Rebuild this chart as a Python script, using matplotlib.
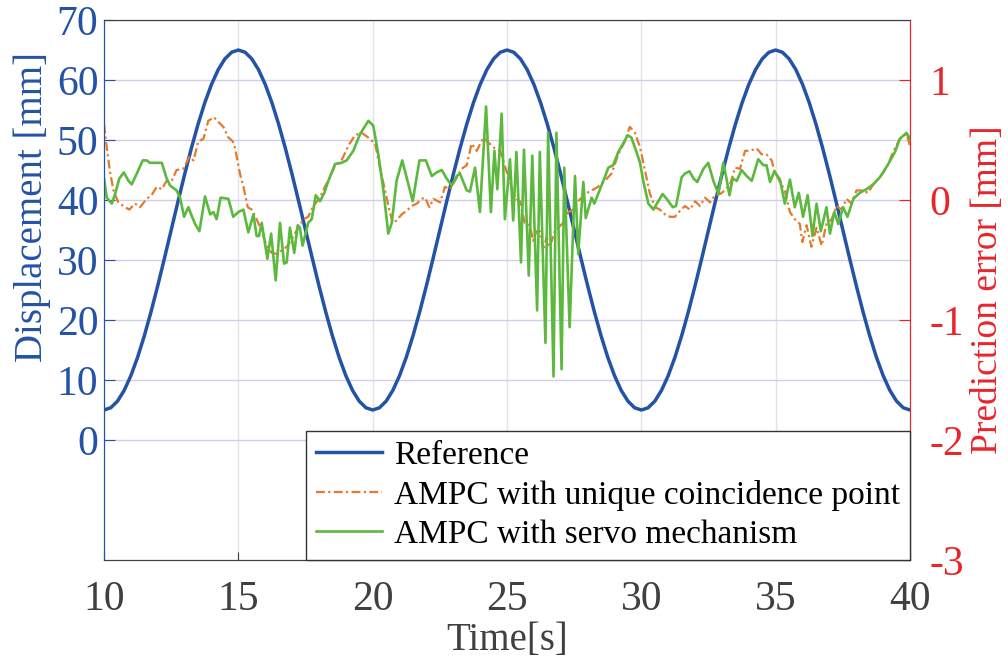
import numpy as np
import matplotlib
matplotlib.use("Agg")
import matplotlib.pyplot as plt

plt.rcParams['font.family'] = ['Liberation Serif', 'DejaVu Serif']
plt.rcParams['axes.unicode_minus'] = False

# =========================
# Data
# =========================
# reference trajectory, sampled every 0.25 s from 10 s to 40 s
ref_t = np.arange(10, 40.001, 0.25)
ref_disp = [
    5, 5.37, 6.47, 8.27, 10.73, 13.79, 17.37, 21.38, 25.73, 30.31,
    35, 39.69, 44.27, 48.62, 52.63, 56.21, 59.27, 61.73, 63.53, 64.63,
    65, 64.63, 63.53, 61.73, 59.27, 56.21, 52.63, 48.62, 44.27, 39.69,
    35, 30.31, 25.73, 21.38, 17.37, 13.79, 10.73, 8.27, 6.47, 5.37,
    5, 5.37, 6.47, 8.27, 10.73, 13.79, 17.37, 21.38, 25.73, 30.31,
    35, 39.69, 44.27, 48.62, 52.63, 56.21, 59.27, 61.73, 63.53, 64.63,
    65, 64.63, 63.53, 61.73, 59.27, 56.21, 52.63, 48.62, 44.27, 39.69,
    35, 30.31, 25.73, 21.38, 17.37, 13.79, 10.73, 8.27, 6.47, 5.37,
    5, 5.37, 6.47, 8.27, 10.73, 13.79, 17.37, 21.38, 25.73, 30.31,
    35, 39.69, 44.27, 48.62, 52.63, 56.21, 59.27, 61.73, 63.53, 64.63,
    65, 64.63, 63.53, 61.73, 59.27, 56.21, 52.63, 48.62, 44.27, 39.69,
    35, 30.31, 25.73, 21.38, 17.37, 13.79, 10.73, 8.27, 6.47, 5.37,
    5,
]

# AMPC with unique coincidence point (prediction error, mm)
ucp_t = [
    10.0, 10.10, 10.22, 10.35, 10.53, 10.72, 10.94, 11.15, 11.34, 11.59,
    11.77, 11.96, 12.15, 12.33, 12.52, 12.70, 12.95, 13.18, 13.33, 13.51,
    13.70, 13.88, 14.09, 14.26, 14.44, 14.63, 14.79,
    14.88, 15.06, 15.19, 15.35, 15.50, 15.68, 15.87, 16.05, 16.24, 16.43,
    16.61, 16.80, 16.98, 17.23, 17.42, 17.60, 17.79, 18.04, 18.22, 18.41,
    18.60, 18.84, 19.09, 19.34, 19.59, 19.84,
    20.09, 20.27, 20.46, 20.64, 20.74, 20.89, 21.08, 21.26, 21.45, 21.64,
    21.82, 21.95, 22.11, 22.26, 22.51, 22.69, 22.88, 23.06, 23.31, 23.50,
    23.68, 23.87, 24.12, 24.30, 24.55, 24.74,
    24.92, 25.11, 25.29, 25.48, 25.66, 25.85, 25.97, 26.10, 26.22, 26.35,
    26.47, 26.59, 26.78, 26.91, 27.09, 27.28, 27.46, 27.65, 27.90, 28.15,
    28.39, 28.64, 28.89, 29.14, 29.39, 29.57, 29.76,
    29.95, 30.14, 30.32, 30.51, 30.69, 30.88, 31.07, 31.25, 31.44, 31.62,
    31.81, 32.00, 32.18, 32.37, 32.56, 32.74, 32.93, 33.11, 33.30, 33.49,
    33.67, 33.86, 34.04, 34.29, 34.48, 34.66, 34.85,
    34.97, 35.16, 35.34, 35.53, 35.71, 35.90, 35.99, 36.15, 36.33, 36.52,
    36.71, 36.89, 37.08, 37.27, 37.45, 37.64, 37.82, 38.01, 38.20, 38.44,
    38.63, 38.88, 39.13, 39.37, 39.62, 39.87, 40.0,
]
ucp_err = [
    0.63, 0.44, 0.24, 0.08, -0.02, -0.05, -0.08, -0.03, -0.06, 0.01,
    0.04, 0.11, 0.09, 0.16, 0.16, 0.25, 0.26, 0.36, 0.33, 0.49,
    0.51, 0.66, 0.69, 0.65, 0.61, 0.52, 0.49,
    0.43, 0.22, 0.11, -0.06, -0.08, -0.16, -0.26, -0.38, -0.44, -0.45,
    -0.42, -0.39, -0.33, -0.23, -0.16, -0.14, -0.05, 0.02, 0.11, 0.19,
    0.29, 0.33, 0.45, 0.54, 0.56, 0.52,
    0.47, 0.27, 0.08, -0.10, -0.19, -0.17, -0.12, -0.09, -0.05, -0.03,
    0.01, 0.02, -0.06, 0.01, -0.02, 0.11, 0.09, 0.16, 0.26, 0.29,
    0.47, 0.41, 0.52, 0.48, 0.43, 0.41,
    0.28, 0.15, 0.02, -0.01, -0.19, -0.21, -0.34, -0.26, -0.26, -0.42,
    -0.31, -0.39, -0.26, -0.23, -0.19, -0.10, -0.08, -0.01, 0.05, 0.08,
    0.11, 0.16, 0.22, 0.38, 0.49, 0.61, 0.56,
    0.44, 0.24, 0.05, -0.06, -0.08, -0.12, -0.14, -0.14, -0.09, -0.05,
    -0.08, -0.01, -0.05, 0.02, -0.02, 0.04, 0.05, 0.08, 0.13, 0.27,
    0.26, 0.41, 0.41, 0.43, 0.38, 0.38, 0.33,
    0.23, 0.15, 0.08, -0.10, -0.16, -0.20, -0.35, -0.21, -0.39, -0.23,
    -0.38, -0.20, -0.16, -0.05, -0.08, 0.01, -0.03, 0.08, 0.08, 0.06,
    0.13, 0.19, 0.27, 0.40, 0.51, 0.55, 0.45,
]

# AMPC with servo mechanism (prediction error, mm)
servo_t = [
    10.0, 10.10, 10.29, 10.41, 10.57, 10.74, 10.91, 11.03, 11.22, 11.44,
    11.59, 11.71, 11.90, 12.15, 12.33, 12.46, 12.70, 12.83, 12.98, 13.14,
    13.26, 13.39, 13.55, 13.76, 13.95, 14.07, 14.19, 14.34, 14.63, 14.81,
    15.00, 15.19, 15.37, 15.56, 15.68, 15.77, 15.87, 16.08, 16.22, 16.39,
    16.55, 16.70, 16.80, 16.92, 17.08, 17.21, 17.29, 17.39, 17.50, 17.60,
    17.73, 17.88, 18.04, 18.20, 18.35, 18.60, 18.84, 19.03, 19.28, 19.53,
    19.84,
    20.02, 20.21, 20.40, 20.58, 20.71, 20.89, 21.10, 21.26, 21.49, 21.74,
    21.98, 22.20, 22.38, 22.57, 22.75, 22.94, 23.13, 23.25, 23.50, 23.62,
    23.81, 23.99, 24.22, 24.40, 24.53, 24.64, 24.80, 24.92,
    25.11, 25.23, 25.35, 25.52, 25.63, 25.81, 25.94, 26.12, 26.22, 26.43,
    26.53, 26.73, 26.84, 27.03, 27.13, 27.33, 27.53, 27.65, 27.84, 27.93,
    28.15, 28.25, 28.46, 28.64, 28.77, 28.95, 29.14, 29.32, 29.49, 29.63,
    29.82,
    29.95, 30.07, 30.26, 30.45, 30.63, 30.79, 30.94, 31.17, 31.29, 31.50,
    31.62, 31.79, 31.94, 32.08, 32.31, 32.49, 32.68, 32.87, 33.05, 33.15,
    33.28, 33.40, 33.55, 33.73, 33.92, 34.11, 34.35, 34.54, 34.66, 34.79,
    34.95,
    35.16, 35.34, 35.53, 35.71, 35.86, 36.02, 36.19, 36.37, 36.52, 36.68,
    36.89, 37.02, 37.18, 37.33, 37.51, 37.67, 37.89, 38.13, 38.38, 38.63,
    38.88, 39.19, 39.44, 39.62, 39.87, 40.0,
]
servo_err = [
    0.18, 0.02, -0.03, 0.05, 0.18, 0.23, 0.16, 0.13, 0.22, 0.33,
    0.33, 0.31, 0.31, 0.31, 0.18, 0.12, 0.08, 0.02, -0.14, -0.06,
    -0.13, -0.20, -0.26, 0.03, -0.12, -0.10, -0.16, 0.02, 0.01, -0.14,
    -0.10, -0.08, -0.27, -0.12, -0.30, -0.30, -0.19, -0.49, -0.28, -0.67,
    -0.19, -0.53, -0.52, -0.23, -0.44, -0.21, -0.23, -0.38, -0.28, -0.19,
    -0.16, 0.04, -0.01, 0.06, 0.16, 0.30, 0.31, 0.33, 0.41, 0.55,
    0.66,
    0.62, 0.38, 0.08, -0.28, -0.19, 0.16, 0.33, 0.19, -0.01, 0.33,
    0.33, 0.20, 0.23, 0.25, 0.18, 0.12, 0.20, 0.22, 0.08, 0.07,
    0.27, -0.10, 0.78, -0.10, 0.41, 0.09, 0.72, -0.16,
    0.34, -0.17, 0.40, -0.52, 0.42, -0.63, 0.37, -0.92, 0.40, -1.19,
    0.56, -1.47, 0.56, -1.41, 0.27, -1.06, 0.20, -0.45, 0.15, -0.15,
    0.02, -0.03, 0.09, 0.19, 0.27, 0.29, 0.40, 0.47, 0.54, 0.52,
    0.40,
    0.31, 0.16, -0.03, -0.08, -0.01, 0.05, 0.01, -0.06, -0.05, 0.19,
    0.22, 0.24, 0.18, 0.15, 0.26, 0.31, 0.16, 0.05, 0.31, 0.20,
    0.04, 0.18, 0.16, 0.25, 0.20, 0.16, 0.34, 0.29, 0.29, 0.15,
    0.24,
    0.17, -0.03, 0.17, -0.06, 0.06, -0.14, 0.04, -0.30, -0.03, -0.26,
    -0.06, -0.28, -0.10, -0.20, -0.06, -0.14, 0.01, 0.06, 0.09, 0.13,
    0.19, 0.30, 0.40, 0.51, 0.56, 0.51,
]

x_ticks = [10, 15, 20, 25, 30, 35, 40]
left_ticks = [0, 10, 20, 30, 40, 50, 60, 70]
right_ticks = [-3, -2, -1, 0, 1]

# =========================
# Styles
# =========================
BLUE = '#2453a6'
RED = '#e8252b'
ORANGE = '#e57a2c'
GREEN = '#5cb93e'
GRAY = '#404040'

fig = plt.figure(figsize=(10.08, 6.61), dpi=100)
ax = fig.add_axes([0.1032, 0.1528, 0.7996, 0.8169])
ax2 = ax.twinx()

l1, = ax.plot(ref_t, ref_disp, color=BLUE, lw=2.5, label='Reference')
l2, = ax2.plot(ucp_t, ucp_err, color=ORANGE, lw=1.6, ls=(0, (4, 1.5, 1, 1.5)),
               label='AMPC with unique coincidence point')
l3, = ax2.plot(servo_t, servo_err, color=GREEN, lw=1.9,
               label='AMPC with servo mechanism')

ax.set_xlim(10, 40)
ax.set_ylim(-20, 70)
ax2.set_ylim(-3, 1.5)
ax.set_xticks(x_ticks)
ax.set_yticks(left_ticks)
ax2.set_yticks(right_ticks)

# grid
ax.yaxis.grid(True, color='#cfcfe6', lw=1.0)
ax.xaxis.grid(True, color='#e3e3e3', lw=1.0)
ax.set_axisbelow(True)

ax.tick_params(axis='x', direction='in', colors=GRAY, labelsize=30, length=6, pad=15)
ax.tick_params(axis='y', direction='in', colors=BLUE, labelsize=30, length=8, pad=4)
ax2.tick_params(axis='y', direction='in', colors=RED, labelsize=30, length=8, pad=14)

ax.set_xlabel('Time[s]', fontsize=28, color=GRAY, labelpad=2)
ax.set_ylabel('Displacement [mm]', fontsize=28, color=BLUE, va='center')
ax2.set_ylabel('Prediction error [mm]', fontsize=27, color=RED, va='center')
ax.yaxis.set_label_coords(-0.089, 0.654)
ax2.yaxis.set_label_coords(1.096, 0.5)

for a in (ax, ax2):
    a.spines['top'].set_color(GRAY)
    a.spines['bottom'].set_color(GRAY)
    a.spines['left'].set_color(BLUE)
    a.spines['right'].set_color(RED)

leg = ax2.legend(handles=[l1, l2, l3], loc='lower right', fontsize=24,
                 frameon=True, fancybox=False, framealpha=1, edgecolor='#333333',
                 borderaxespad=0, handlelength=2.0, handletextpad=0.35,
                 labelspacing=0.26, borderpad=0.3)
leg.get_frame().set_linewidth(1.0)

plt.savefig('out.png', dpi=100)
